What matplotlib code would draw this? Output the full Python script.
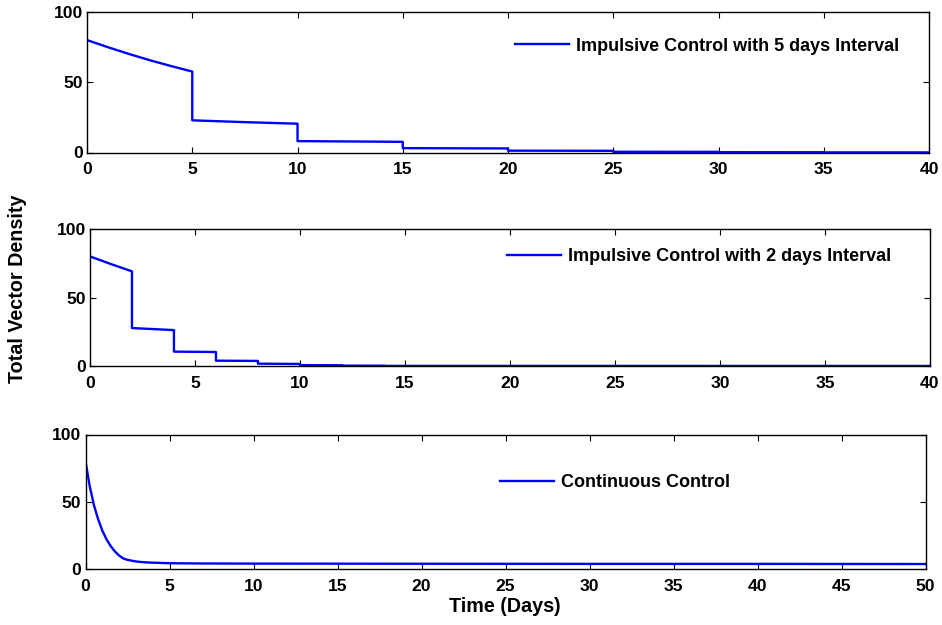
import matplotlib
matplotlib.use("Agg")
import matplotlib.pyplot as plt

plt.rcParams['font.family'] = ['Liberation Sans', 'DejaVu Sans']
plt.rcParams['font.weight'] = 'bold'

# impulsive control, 5 day interval (duplicate times = impulse jumps)
top_t = [0, 1, 2, 3, 4, 5, 5, 7.5, 10, 10, 12.5, 15, 15, 20, 20, 25, 25, 30, 30, 35, 35, 40]
top_v = [80, 74.9, 70.1, 65.6, 61.5, 57.6, 22.9, 21.6, 20.5, 8.1, 7.85, 7.6,
         3.1, 2.9, 1.3, 1.2, 0.5, 0.45, 0.2, 0.18, 0.08, 0.07]
top_label = 'Impulsive Control with 5 days Interval'

# impulsive control, 2 day interval
mid_t = [0, 1, 2, 2, 4, 4, 6, 6, 8, 8, 10, 10, 12, 12, 14, 14, 40]
mid_v = [80, 74.4, 69.1, 27.7, 26.2, 10.5, 10.2, 3.9, 3.7, 1.7, 1.5,
         0.6, 0.55, 0.25, 0.22, 0.1, 0.05]
mid_label = 'Impulsive Control with 2 days Interval'

# continuous control
bot_t = [0, 0.25, 0.5, 0.75, 1, 1.25, 1.5, 1.75, 2, 2.25, 2.5, 3, 3.5, 4, 5,
         7, 10, 20, 30, 40, 50]
bot_v = [80, 61.5, 47.5, 37, 28.5, 22, 17, 13, 10, 7.8, 6.8, 5.6, 5.0, 4.7, 4.3,
         4.1, 4.0, 3.9, 3.8, 3.8, 3.7]
bot_label = 'Continuous Control'

TICK_FS = 12.6
LEG_FS = 13
LABEL_FS = 14.2

panels = [
    # (t, v, label, xmax, rect, legend anchor)
    (top_t, top_v, top_label, 40, [0.0924, 0.756, 0.8938, 0.2248], (0.508, 0.758)),
    (mid_t, mid_v, mid_label, 40, [0.0955, 0.4144, 0.8917, 0.2192], (0.496, 0.797)),
    (bot_t, bot_v, bot_label, 50, [0.0908, 0.0896, 0.8917, 0.2152], (0.493, 0.640)),
]

fig = plt.figure(figsize=(9.42, 6.25), dpi=100)

for t, v, label, xmax, rect, anchor in panels:
    ax = fig.add_axes(rect)
    ax.plot(t, v, color='#0000ff', lw=1.7, label=label)
    ax.set_xlim(0, xmax)
    ax.set_ylim(0, 100)
    ax.set_yticks([0, 50, 100])
    ax.set_xticks(range(0, xmax + 1, 5))
    ax.tick_params(direction='in', top=True, right=True, length=4, width=0.8,
                   labelsize=TICK_FS)
    ax.tick_params(axis='x', pad=7)
    ax.tick_params(axis='y', pad=3)
    for lbl in ax.get_xticklabels() + ax.get_yticklabels():
        lbl.set_fontweight('bold')
    for sp in ax.spines.values():
        sp.set_linewidth(1.0)
    ax.legend(loc='center left', bbox_to_anchor=anchor, frameon=False,
              borderpad=0, borderaxespad=0, handlelength=54 / (LEG_FS * 1.389),
              handletextpad=0.4, prop={'size': LEG_FS, 'weight': 'bold'})

fig.text(18 / 942, (625 - 289) / 625, 'Total Vector Density', rotation=90,
         ha='center', va='center', fontsize=LABEL_FS, fontweight='bold')
fig.text(505 / 942, (625 - 606) / 625, 'Time (Days)', ha='center', va='center',
         fontsize=LABEL_FS, fontweight='bold')

fig.savefig('out.png', dpi=100)
